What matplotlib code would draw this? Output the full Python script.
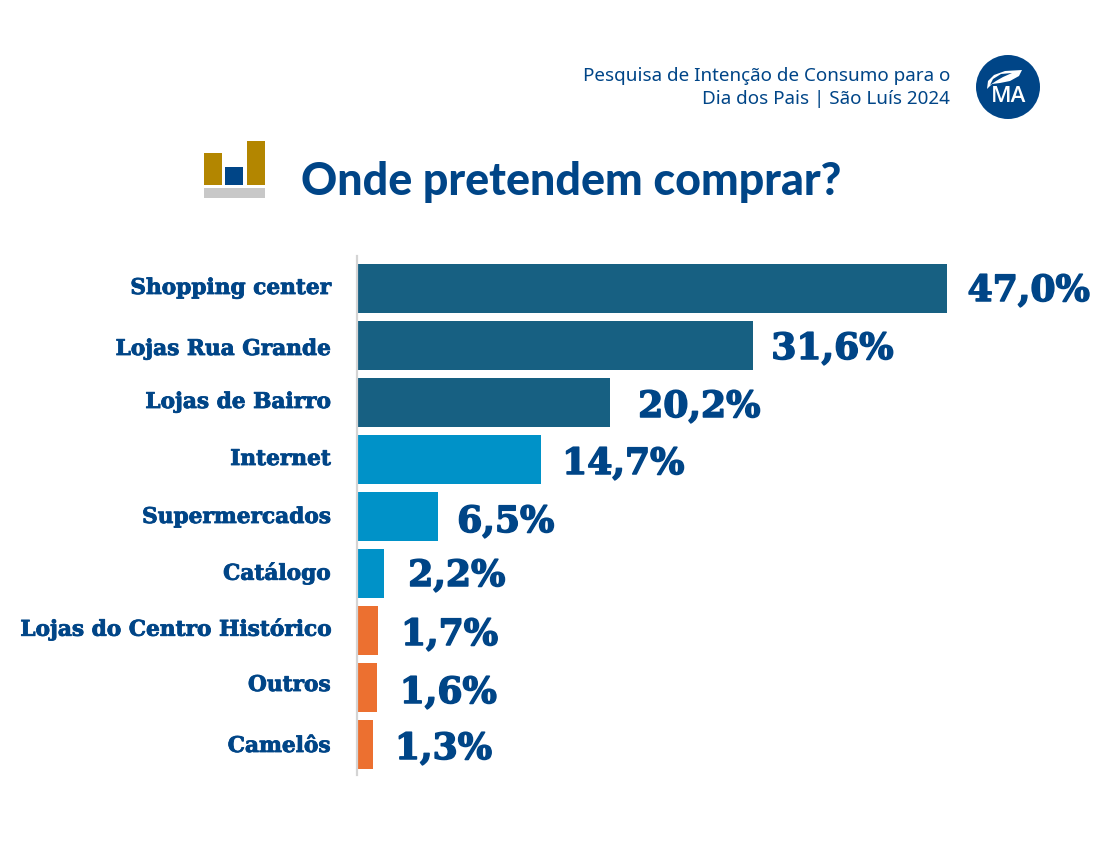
import matplotlib
matplotlib.use("Agg")
import matplotlib.pyplot as plt
import matplotlib.patheffects as pe
from matplotlib.patches import Circle, Rectangle, Polygon
from matplotlib.transforms import ScaledTranslation

categories = ["Shopping center", "Lojas Rua Grande", "Lojas de Bairro", "Internet",
              "Supermercados", "Catálogo", "Lojas do Centro Histórico", "Outros", "Camelôs"]
values = [47.0, 31.6, 20.2, 14.7, 6.5, 2.2, 1.7, 1.6, 1.3]
value_labels = ["47,0%", "31,6%", "20,2%", "14,7%", "6,5%", "2,2%", "1,7%", "1,6%", "1,3%"]
groups = ["top", "top", "top", "mid", "mid", "mid", "low", "low", "low"]
group_colors = {"top": "#176082", "mid": "#0092C8", "low": "#EC7030"}
title = "Onde pretendem comprar?"
subtitle = ["Pesquisa de Intenção de Consumo para o", "Dia dos Pais | São Luís 2024"]

NAVY = "#004587"
W, H = 1120, 858
fig = plt.figure(figsize=(W / 100, H / 100), dpi=100, facecolor="white")

bg = fig.add_axes([0, 0, 1, 1])
bg.set_xlim(0, W); bg.set_ylim(H, 0); bg.axis("off")

left, top, bottom = 356.6, 256, 775
px_per_unit = 590 / 47.0
ax = fig.add_axes([left / W, 1 - bottom / H, (W - left) / W, (bottom - top) / H])
ax.set_xlim(0, (W - left) / px_per_unit)
step = 57
ax.set_ylim((bottom - 288) / step, (top - 288) / step)
ax.patch.set_alpha(0)
ax.barh(range(len(values)), values, height=49 / step,
        color=[group_colors[g] for g in groups], linewidth=0)
for s in ["top", "right", "bottom"]:
    ax.spines[s].set_visible(False)
ax.spines["left"].set_color("#D4D4D4")
ax.spines["left"].set_linewidth(1.6)
ax.xaxis.set_visible(False)
ax.set_yticks(range(len(categories)))
ax.set_yticklabels(categories, fontfamily="DejaVu Serif", fontweight="bold",
                   fontsize=15.6, color=NAVY)
ax.tick_params(axis="y", length=0, pad=19)

stroke_small = [pe.withStroke(linewidth=0.6, foreground=NAVY)]
stroke_big = [pe.withStroke(linewidth=1.1, foreground=NAVY)]

label_dy = [-2.5, 1.5, -2.5, -2.5, -1.5, -2.5, -3.5, -4.5, -0.5]
value_dy = [3, 4, 5, 5, 6, 3, 5, 6, 5]
value_dx = [21, 18, 28, 21, 19, 24, 23, 23, 22]
for lab, dy in zip(ax.get_yticklabels(), label_dy):
    lab.set_transform(lab.get_transform() + ScaledTranslation(0, -dy / 100, fig.dpi_scale_trans))
    lab.set_path_effects(stroke_small)
for i, (v, t) in enumerate(zip(values, value_labels)):
    ax.annotate(t, (v, i), xytext=(value_dx[i], -value_dy[i]), textcoords="offset pixels",
                ha="left", va="center", fontfamily="DejaVu Serif", fontweight="bold",
                fontsize=26, color=NAVY, path_effects=stroke_big)

bg.text(301, 182, title, ha="left", va="center", fontfamily="Lato", fontweight="black",
        fontsize=32.2, color=NAVY)
for y, s in zip((76, 99), subtitle):
    bg.text(950, y, s, ha="right", va="center", fontfamily="Noto Sans", fontsize=13.55, color=NAVY)

bg.add_patch(Rectangle((204, 153), 18, 32, color="#B38600", lw=0))
bg.add_patch(Rectangle((225, 167), 18, 18, color=NAVY, lw=0))
bg.add_patch(Rectangle((247, 141), 18, 44, color="#B38600", lw=0))
bg.add_patch(Rectangle((204, 188), 61, 10, color="#C8C8C8", lw=0))

bg.add_patch(Circle((1008, 87), 32, color=NAVY, lw=0))
bg.add_patch(Polygon([(987, 89), (988, 81), (994, 75), (1005, 71), (1022, 70), (1019, 76), (1010, 81),
                      (1000, 83), (992, 84)],
                     closed=True, facecolor="white", edgecolor="none"))
bg.add_patch(Polygon([(990, 85), (993, 79), (1001, 74), (1012, 73), (1003, 77), (996, 81)],
                     closed=True, facecolor=NAVY, edgecolor="none"))
bg.text(1009, 96, "MA", ha="center", va="center", fontfamily="Open Sans", fontweight="semibold",
        fontsize=16, color="white")

fig.savefig("out.png", dpi=100, facecolor="white")
